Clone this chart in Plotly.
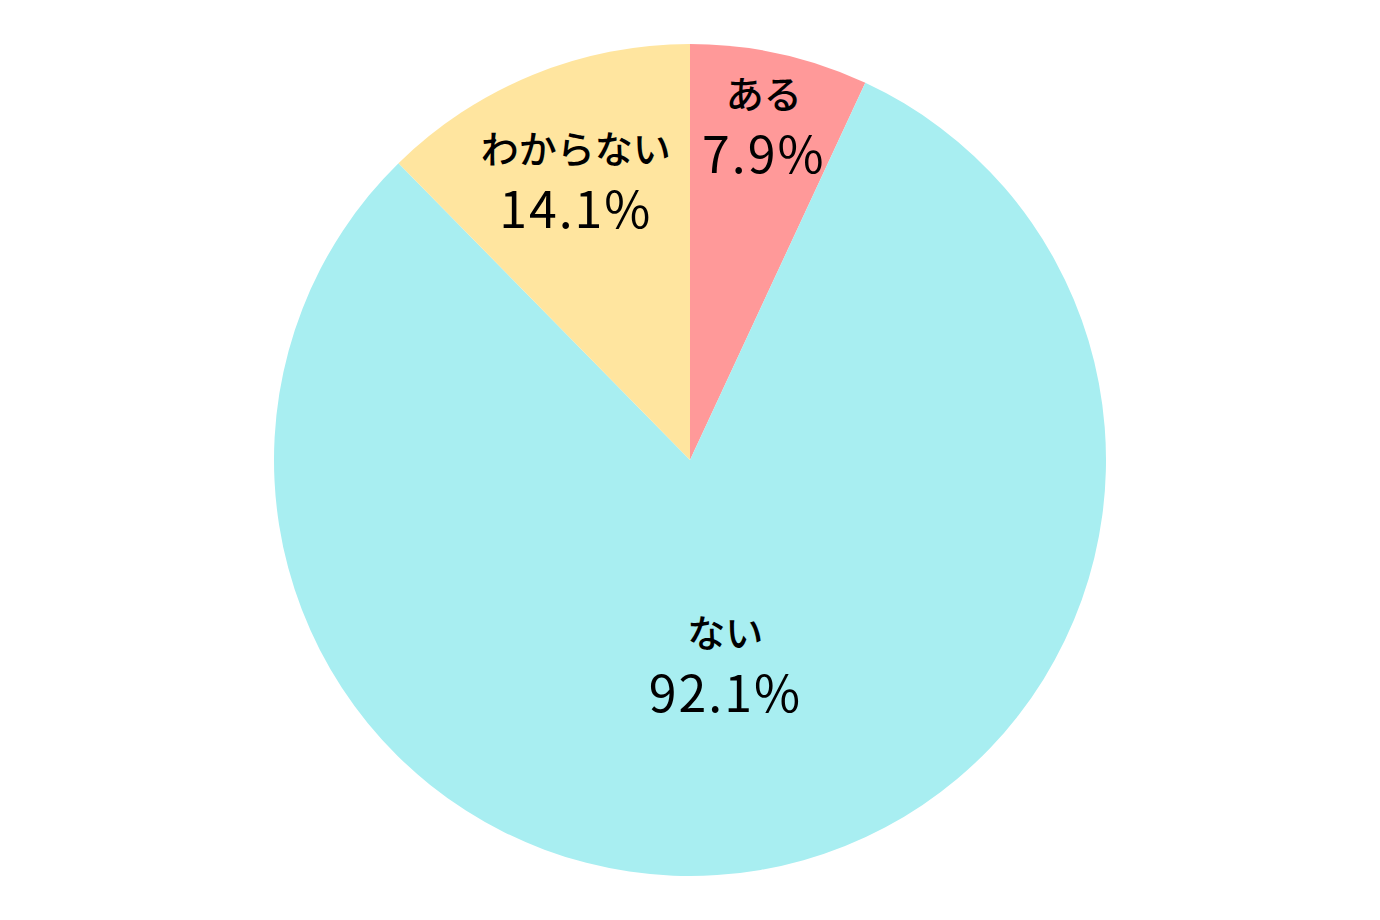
import plotly.graph_objects as go

labels = ["ある", "ない", "わからない"]
values = [7.9, 92.1, 14.1]
colors = ["#FF9999", "#A8EEF1", "#FFE59F"]

fig = go.Figure(go.Pie(
    labels=labels,
    values=values,
    sort=False,
    direction="clockwise",
    rotation=0,
    marker=dict(colors=colors, line=dict(width=0)),
    texttemplate="<span style='font-size:38px;font-weight:500'>%{label}</span><br><span style='letter-spacing:2px'>%{value}%</span>",
    textposition="inside",
    insidetextorientation="horizontal",
    textfont=dict(family="Noto Sans CJK JP", size=50, color="black"),
    hoverinfo="skip",
    showlegend=False,
))
fig.update_layout(
    width=1380, height=920,
    margin=dict(l=0, r=0, t=44, b=44),
    paper_bgcolor="white",
    plot_bgcolor="white",
    uniformtext=dict(minsize=50, mode="show"),
)
fig.write_html("out.html")
